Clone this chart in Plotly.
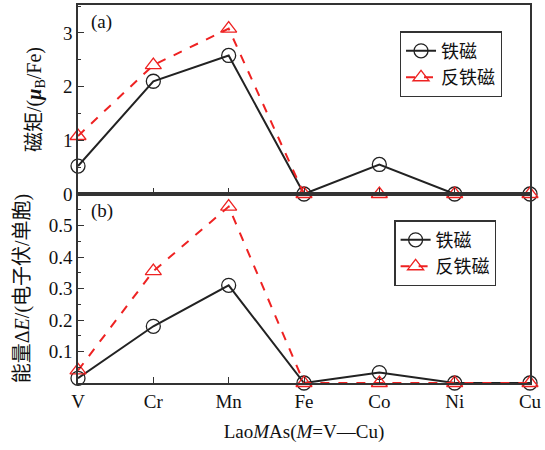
import plotly.graph_objects as go
from plotly.subplots import make_subplots

elements = ["V", "Cr", "Mn", "Fe", "Co", "Ni", "Cu"]
moment_fm = [0.52, 2.10, 2.58, 0.0, 0.55, 0.0, 0.0]
moment_afm = [1.08, 2.40, 3.08, 0.0, 0.0, 0.0, 0.0]
energy_fm = [0.015, 0.18, 0.31, 0.0, 0.033, 0.0, 0.0]
energy_afm = [0.04, 0.355, 0.56, 0.0, 0.0, 0.0, 0.0]
name_fm = "铁磁"
name_afm = "反铁磁"

serif = "Liberation Serif, Times New Roman, Noto Sans CJK SC"
fig = make_subplots(rows=2, cols=1, shared_xaxes=True, vertical_spacing=0)

xs = list(range(len(elements)))

def add(row, y, name, color, dash, symbol, legend):
    fig.add_trace(go.Scatter(
        x=xs, y=y, name=name, mode="lines+markers", cliponaxis=False,
        line=dict(color=color, width=2, dash=dash),
        marker=dict(symbol=symbol, size=14, color="rgba(255,255,255,0)",
                    line=dict(color=color, width=1.3)),
        legend=legend), row=row, col=1)

add(1, moment_fm, name_fm, "#222222", "solid", "circle", "legend")
add(1, moment_afm, name_afm, "#ee2222", "dash", "triangle-up", "legend")
add(2, energy_fm, name_fm, "#222222", "solid", "circle", "legend2")
add(2, energy_afm, name_afm, "#ee2222", "dash", "triangle-up", "legend2")

axis_common = dict(showline=True, linecolor="#333333", linewidth=1.5, mirror=True,
                   ticks="inside", tickcolor="#333333", showgrid=False, zeroline=False,
                   automargin=False,
                   tickfont=dict(family=serif, size=19, color="#111111"))

fig.update_xaxes(**axis_common, range=[0, 6], tickvals=xs, ticktext=elements, ticklen=6)
fig.update_xaxes(row=2, col=1, title=dict(text="Lao<i>M</i>As(<i>M</i>=V—Cu)",
                 font=dict(family=serif, size=19, color="#111111"), standoff=14))
fig.update_yaxes(**axis_common, ticklen=6)
fig.update_yaxes(row=1, col=1, range=[0, 3.52], tickvals=[0, 1, 2, 3],
                 minor=dict(ticks="inside", ticklen=3, tickvals=[0.5, 1.5, 2.5, 3.5], tickcolor="#333333"),
                 title=dict(text="磁矩/(<b><i>μ</i></b><sub>B</sub>/Fe)",
                            font=dict(family=serif, size=20, color="#111111"), standoff=16))
fig.update_yaxes(row=2, col=1, range=[0, 0.6], tickvals=[0.1, 0.2, 0.3, 0.4, 0.5],
                 minor=dict(ticks="inside", ticklen=3,
                            tickvals=[0.05, 0.15, 0.25, 0.35, 0.45, 0.55], tickcolor="#333333"),
                 title=dict(text="能量Δ<i>E</i>/(电子伏/单胞)",
                            font=dict(family=serif, size=20, color="#111111"), standoff=14))

legend_style = dict(bgcolor="white", bordercolor="#333333", borderwidth=1.2,
                    font=dict(family=serif, size=18, color="#111111"),
                    xanchor="left", yanchor="top", tracegroupgap=0, itemwidth=30)
fig.update_layout(
    legend=dict(**legend_style, x=0.712, y=0.93),
    legend2=dict(**legend_style, x=0.70, y=0.43),
    width=545, height=450, plot_bgcolor="white", paper_bgcolor="white",
    margin=dict(l=78, r=15, t=5, b=67),
    annotations=[
        dict(text="(a)", xref="paper", yref="paper", x=0.025, y=0.955, showarrow=False,
             xanchor="left", yanchor="middle", font=dict(family=serif, size=19, color="#111111")),
        dict(text="(b)", xref="paper", yref="paper", x=0.025, y=0.455, showarrow=False,
             xanchor="left", yanchor="middle", font=dict(family=serif, size=19, color="#111111")),
    ],
)

fig.write_html("out.html", config={"displayModeBar": False},
               post_script="document.body.style.margin='0';")
